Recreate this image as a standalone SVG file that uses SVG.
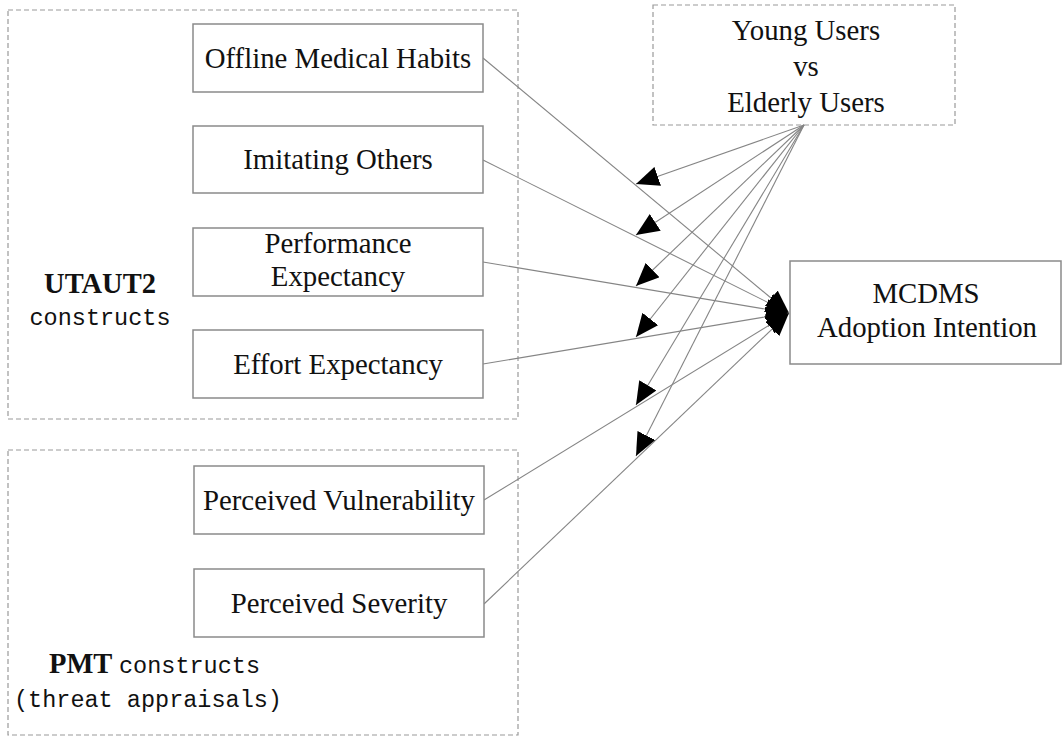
<svg xmlns="http://www.w3.org/2000/svg" width="1064" height="738" viewBox="0 0 1064 738">
  <style>
    .group { fill: none; stroke: #9a9a9a; stroke-width: 1.2; stroke-dasharray: 5 3; }
    .box { fill: #ffffff; stroke: #8a8a8a; stroke-width: 1.5; }
    .lbl { font-family: "Liberation Serif", "Times New Roman", serif; font-size: 28.8px; fill: #111; text-anchor: middle; }
    .bold { font-family: "Liberation Serif", "Times New Roman", serif; font-size: 28.5px; font-weight: bold; fill: #111; }
    .mono { font-family: "Liberation Mono", "Courier New", monospace; font-size: 23.5px; fill: #111; }
    .link { fill: none; stroke: #858585; stroke-width: 1.1; marker-end: url(#head); }
  </style>
  <defs>
    <marker id="head" markerUnits="userSpaceOnUse" markerWidth="23" markerHeight="20" refX="23" refY="10" orient="auto">
      <path d="M0,0 L23,10 L0,20 Z" fill="#000"/>
    </marker>
  </defs>
  <rect width="1064" height="738" fill="#ffffff"/>

  <!-- construct groupings -->
  <g id="utaut2-group">
    <rect class="group" x="8" y="10" width="510" height="409"/>
    <text class="bold" x="100" y="293" text-anchor="middle">UTAUT2</text>
    <text class="mono" x="100" y="325" text-anchor="middle">constructs</text>
  </g>
  <g id="pmt-group">
    <rect class="group" x="8" y="450" width="510" height="285"/>
    <text class="bold" x="49" y="673">PMT</text>
    <text class="mono" x="119" y="673">constructs</text>
    <text class="mono" x="14" y="707">(threat appraisals)</text>
  </g>

  <!-- connectors -->
  <g id="connectors">
    <path class="link" d="M483,58 L789,313"/>
    <path class="link" d="M483,160 L789,313"/>
    <path class="link" d="M483,262 L789,313"/>
    <path class="link" d="M483,364 L789,313"/>
    <path class="link" d="M484,500 L789,313"/>
    <path class="link" d="M484,604 L789,313"/>
    <path class="link" d="M804,125 L636,184"/>
    <path class="link" d="M804,125 L636,235"/>
    <path class="link" d="M804,125 L636,286"/>
    <path class="link" d="M804,125 L636,337"/>
    <path class="link" d="M804,125 L636,405"/>
    <path class="link" d="M804,125 L636,456"/>
  </g>

  <!-- predictors -->
  <g id="offline-medical-habits">
    <rect class="box" x="193" y="24" width="290" height="68"/>
    <text class="lbl" x="338" y="68">Offline Medical Habits</text>
  </g>
  <g id="imitating-others">
    <rect class="box" x="193" y="126" width="290" height="67"/>
    <text class="lbl" x="338" y="169">Imitating Others</text>
  </g>
  <g id="performance-expectancy">
    <rect class="box" x="193" y="228" width="290" height="68"/>
    <text class="lbl" x="338" y="253">Performance</text>
    <text class="lbl" x="338" y="286">Expectancy</text>
  </g>
  <g id="effort-expectancy">
    <rect class="box" x="193" y="330" width="290" height="68"/>
    <text class="lbl" x="338" y="374">Effort Expectancy</text>
  </g>
  <g id="perceived-vulnerability">
    <rect class="box" x="194" y="466" width="290" height="68"/>
    <text class="lbl" x="339" y="510">Perceived Vulnerability</text>
  </g>
  <g id="perceived-severity">
    <rect class="box" x="194" y="569" width="290" height="68"/>
    <text class="lbl" x="339" y="613">Perceived Severity</text>
  </g>

  <!-- moderator -->
  <g id="age-moderator">
    <rect class="group" x="653" y="5" width="302" height="120"/>
    <text class="lbl" x="806" y="40">Young Users</text>
    <text class="lbl" x="806" y="76">vs</text>
    <text class="lbl" x="806" y="112">Elderly Users</text>
  </g>

  <!-- outcome -->
  <g id="mcdms-adoption-intention">
    <rect class="box" x="790" y="261" width="271" height="103"/>
    <text class="lbl" x="926" y="303">MCDMS</text>
    <text class="lbl" x="927" y="337">Adoption Intention</text>
  </g>
</svg>
